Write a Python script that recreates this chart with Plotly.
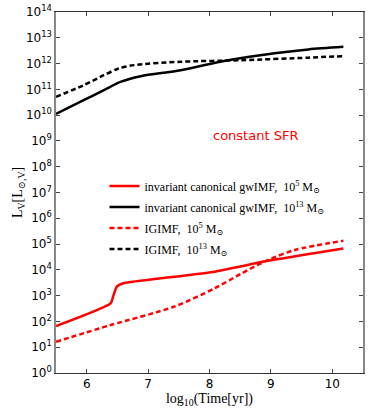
import plotly.graph_objects as go

# log10(Time[yr]) and log10(L_V)
t_inv13 = [5.5, 5.95, 6.28, 6.55, 6.88, 7.53, 8.3, 9.06, 9.61, 10.18]
l_inv13 = [10.05, 10.58, 10.97, 11.29, 11.51, 11.74, 12.13, 12.4, 12.55, 12.65]

t_ig13 = [5.5, 5.95, 6.28, 6.52, 6.77, 7.53, 8.52, 9.61, 10.18]
l_ig13 = [10.71, 11.16, 11.55, 11.81, 11.94, 12.07, 12.13, 12.23, 12.29]

t_inv5 = [5.5, 6.39, 6.43, 6.49, 6.6, 7.42, 8.08, 8.95, 10.18]
l_inv5 = [1.82, 2.70, 2.96, 3.35, 3.48, 3.73, 3.93, 4.35, 4.83]

t_ig5 = [5.5, 6.39, 7.42, 8.08, 8.52, 8.95, 9.39, 10.18]
l_ig5 = [1.21, 1.86, 2.57, 3.28, 3.86, 4.38, 4.77, 5.13]

y_tick_exp = list(range(0, 15))
x_ticks = [6, 7, 8, 9, 10]

def L(vals):
    return [10 ** v for v in vals]

serif = "Liberation Serif, DejaVu Serif, serif"
sans = "DejaVu Sans, sans-serif"

fig = go.Figure()
fig.add_trace(go.Scatter(x=t_inv5, y=L(l_inv5), mode="lines", legendgroup="a",
                         line=dict(color="red", width=2.5, shape="spline", smoothing=0.5),
                         name="invariant canonical gwIMF,&nbsp; 10<sup>5</sup> M<sub>⊙</sub>"))
fig.add_trace(go.Scatter(x=t_inv13, y=L(l_inv13), mode="lines", legendgroup="b",
                         line=dict(color="black", width=2.5, shape="spline", smoothing=0.8),
                         name="invariant canonical gwIMF,&nbsp; 10<sup>13</sup> M<sub>⊙</sub>"))
fig.add_trace(go.Scatter(x=t_ig5, y=L(l_ig5), mode="lines", legendgroup="c",
                         line=dict(color="red", width=2.5, dash="5px,3px", shape="spline", smoothing=0.8),
                         name="IGIMF,&nbsp; 10<sup>5</sup> M<sub>⊙</sub>"))
fig.add_trace(go.Scatter(x=t_ig13, y=L(l_ig13), mode="lines", legendgroup="d",
                         line=dict(color="black", width=2.5, dash="5px,3px", shape="spline", smoothing=0.8),
                         name="IGIMF,&nbsp; 10<sup>13</sup> M<sub>⊙</sub>"))

fig.add_annotation(x=0.65, y=0.659, xref="paper", yref="paper",
                   text="constant SFR", showarrow=False,
                   font=dict(color="red", size=13, family=sans))

fig.update_layout(
    width=374, height=415,
    margin=dict(l=56, r=11, t=12, b=42),
    paper_bgcolor="white", plot_bgcolor="white",
    showlegend=True,
    legend=dict(x=0.158, y=0.558, xanchor="left", yanchor="top",
                bgcolor="rgba(0,0,0,0)", font=dict(family=serif, size=12, color="black"),
                itemwidth=30, tracegroupgap=2),
    xaxis=dict(range=[5.5, 10.5], tickvals=x_ticks, ticktext=[str(v) for v in x_ticks],
               ticks="inside", ticklen=4, mirror="ticks", showline=True, automargin=False,
               linecolor="#333", linewidth=1, showgrid=False, zeroline=False,
               tickfont=dict(family=sans, size=12, color="black"),
               title=dict(text="log<sub>10</sub>(Time[yr])", standoff=0,
                          font=dict(family=serif, size=14, color="black"))),
    yaxis=dict(type="log", range=[0, 14], tickvals=[10 ** e for e in y_tick_exp],
               ticktext=["10<sup>%d</sup>" % e for e in y_tick_exp],
               ticks="inside", ticklen=4, mirror="ticks", showline=True, automargin=False,
               linecolor="#888", linewidth=1.5, showgrid=False, zeroline=False,
               tickfont=dict(family=sans, size=12, color="black"),
               title=dict(text="L<sub>V</sub>[L<sub>⊙,V</sub>]", standoff=0,
                          font=dict(family=serif, size=14, color="black"))),
)

fig.write_html("out.html", post_script="document.body.style.margin='0';",
               config={"displayModeBar": False})
